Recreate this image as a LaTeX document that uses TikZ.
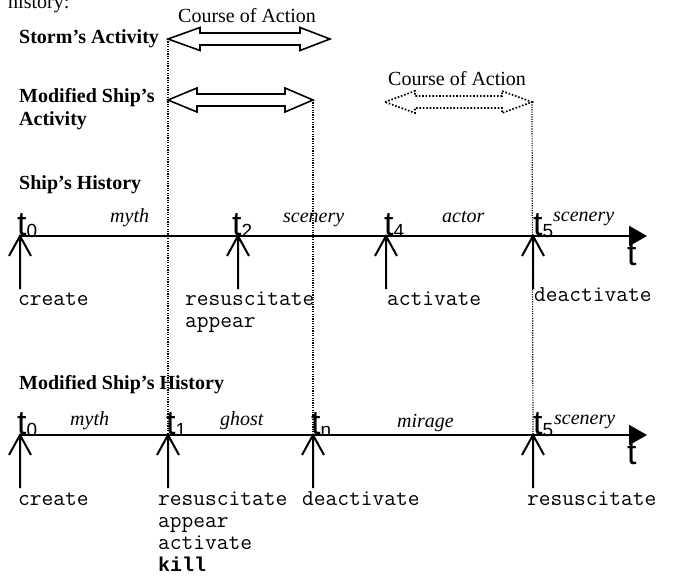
\documentclass[tikz,border=0pt]{standalone}
\usepackage{fontspec}
\setmainfont{Liberation Serif}
\newfontfamily\tfont{Liberation Sans}
\newfontfamily\monob{Liberation Mono}
\usetikzlibrary{arrows.meta}
\newcommand\tsub[1]{t\raisebox{-2pt}{\fontsize{19}{19}\selectfont #1}}
\begin{document}
\begin{tikzpicture}[x=1pt,y=-1pt,
  lbl/.style={anchor=base west,inner sep=0pt,font=\fontsize{20}{22}\selectfont},
  headlbl/.style={lbl,font=\fontsize{20}{22}\selectfont\bfseries},
  statelbl/.style={lbl,font=\fontsize{20}{22}\selectfont\itshape},
  cmdlbl/.style={lbl,font=\fontsize{22.8}{24}\selectfont\ttfamily},
  ticklbl/.style={lbl,font=\fontsize{34}{36}\selectfont\tfont},
  timeaxis/.style={line width=2pt,-{Triangle[length=18pt,width=20pt]}},
  marker/.style={line width=2pt},
  guide/.style={line width=1.2pt,dash pattern=on 1.1pt off 1.3pt},
  block/.style={line width=1.6pt,line join=miter},
  dblock/.style={line width=1.7pt,dash pattern=on 1.6pt off 1.8pt},
  evmark/.pic={\draw[marker] (0,0) -- (0,53) (-11,20) -- (0,0) -- (11,20);}
]
\useasboundingbox (0,0) rectangle (673,576);

% top cropped text
\node[lbl] (hist) at (8,8) {history:};

% ---- activities ----
\node[lbl] (coa1) at (178,22) {Course of Action};
\node[headlbl] (storm) at (19,43) {Storm’s Activity};
\coordinate (sL) at (168,39);
\coordinate (sR) at (330,39);
\draw[block] (sL) -- (200,27.5) -- (200,33) -- (300,33) -- (300,27.5) -- (sR)
  -- (300,50.5) -- (300,45) -- (200,45) -- (200,50.5) -- cycle;

\node[headlbl] (mod1) at (19,102) {Modified Ship’s};
\node[headlbl] (mod2) at (19,125) {Activity};
\coordinate (mL) at (168,100);
\coordinate (mR) at (313,100);
\draw[block] (mL) -- (197,88) -- (197,94) -- (285,94) -- (285,88) -- (mR)
  -- (285,112) -- (285,106) -- (197,106) -- (197,112) -- cycle;

\node[lbl] (coa2) at (388,85) {Course of Action};
\coordinate (cL) at (385,102);
\coordinate (cR) at (532,102);
\draw[dblock] (cL) -- (415,91) -- (415,96) -- (502,96) -- (502,91) -- (cR)
  -- (502,113) -- (502,108) -- (415,108) -- (415,113) -- cycle;

% ---- Ship's History ----
\node[headlbl] (sh) at (19,189) {Ship’s History};
\coordinate (a0) at (20,236);
\coordinate (a2) at (238,236);
\coordinate (a4) at (386,236);
\coordinate (a5) at (533,236);
\coordinate (aE) at (647,236);
\draw[timeaxis] (a0) -- (aE);
\foreach \p in {a0,a2,a4,a5} \pic at (\p) {evmark};
\node[ticklbl] (ta0) at (17,235) {\tsub{0}};
\node[ticklbl] (ta2) at (232,235) {\tsub{2}};
\node[ticklbl] (ta4) at (384,235) {\tsub{4}};
\node[ticklbl] (ta5) at (533,235) {\tsub{5}};
\node[ticklbl] (taT) at (627,265) {t};
\node[statelbl] (s1) at (110,222) {myth};
\node[statelbl] (s2) at (283,222) {scenery};
\node[statelbl] (s3) at (442,222) {actor};
\node[statelbl] (s4) at (553,221) {scenery};
\node[cmdlbl] (c1) at (18,305) {create};
\node[cmdlbl] (c2) at (185,305) {resuscitate};
\node[cmdlbl] (c3) at (185,327) {appear};
\node[cmdlbl] (c4) at (387,305) {activate};
\node[cmdlbl] (c5) at (534,301) {deactivate};

% ---- Modified Ship's History ----
\node[headlbl] (msh) at (19,389) {Modified Ship’s History};
\coordinate (b0) at (20,435);
\coordinate (b1) at (168,435);
\coordinate (bn) at (313,435);
\coordinate (b5) at (533,435);
\coordinate (bE) at (647,435);
\draw[timeaxis] (b0) -- (bE);
\foreach \p in {b0,b1,bn,b5} \pic at (\p) {evmark};
\node[ticklbl] (tb0) at (17,434) {\tsub{0}};
\node[ticklbl] (tb1) at (166,434) {\tsub{1}};
\node[ticklbl] (tbn) at (311,434) {\tsub{n}};
\node[ticklbl] (tb5) at (533,434) {\tsub{5}};
\node[ticklbl] (tbT) at (627,464) {t};
\node[statelbl] (m1) at (70,425) {myth};
\node[statelbl] (m2) at (220,425) {ghost};
\node[statelbl] (m3) at (397,427) {mirage};
\node[statelbl] (m4) at (554,424) {scenery};
\node[cmdlbl] (d1) at (18,505) {create};
\node[cmdlbl] (d2) at (158,505) {resuscitate};
\node[cmdlbl] (d3) at (158,527) {appear};
\node[cmdlbl] (d4) at (158,549) {activate};
\node[lbl,font=\fontsize{20}{22}\selectfont\monob\bfseries] (d5) at (158,571) {kill};
\node[cmdlbl] (d6) at (302,505) {deactivate};
\node[cmdlbl] (d7) at (527,505) {resuscitate};

% ---- guide lines ----
\draw[guide] (sL) -- (b1);
\draw[guide] (mR) -- (bn);
\draw[guide] (cR) -- (b5);
\end{tikzpicture}
\end{document}
